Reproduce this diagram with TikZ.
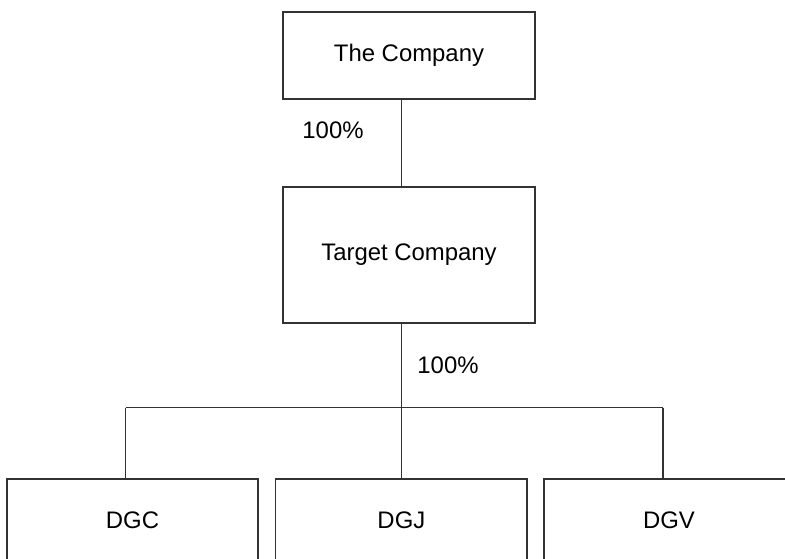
\documentclass[tikz,border=0pt]{standalone}
\usepackage{fontspec}
\setmainfont{Liberation Sans}
\tikzset{
  firm/.style={draw=black!80,line width=.8pt,inner sep=0pt,font=\fontsize{17}{20}\selectfont},
  share/.style={inner sep=0pt,font=\fontsize{17}{20}\selectfont},
  link/.style={draw=black!80,line width=.8pt}
}
\begin{document}
\begin{tikzpicture}[x=.025cm,y=-.025cm]
\useasboundingbox (0,0) rectangle (785,559);
\clip (0,0) rectangle (785,559);
\node[firm,minimum width=6.3cm,minimum height=2.175cm] (company) at (409,55.5) {The Company};
\node[firm,minimum width=6.3cm,minimum height=3.4cm] (target) at (409,255) {Target Company};
\node[firm,minimum width=6.275cm,minimum height=2.05cm] (dgc) at (132.5,520) {DGC};
\node[firm,minimum width=6.28cm,minimum height=2.05cm] (dgj) at (401.4,520) {DGJ};
\node[firm,minimum width=6.25cm,minimum height=2.05cm] (dgv) at (669,520) {DGV};
\node[share] (pcttop) at (333,130) {100\%};
\node[share] (pctlow) at (448,365) {100\%};
\coordinate (hub) at (401.5,407.5);
\coordinate (hubl) at (125.7,407.5);
\coordinate (hubr) at (663,407.5);
\draw[link] (company.south -| hub) -- (target.north -| hub);
\draw[link] (target.south -| hub) -- (hub);
\draw[link] (hubl) -- (hubr);
\draw[link] (hubl) -- (dgc.north -| hubl);
\draw[link] (hub) -- (dgj.north -| hub);
\draw[link] (hubr) -- (dgv.north -| hubr);
\end{tikzpicture}
\end{document}
